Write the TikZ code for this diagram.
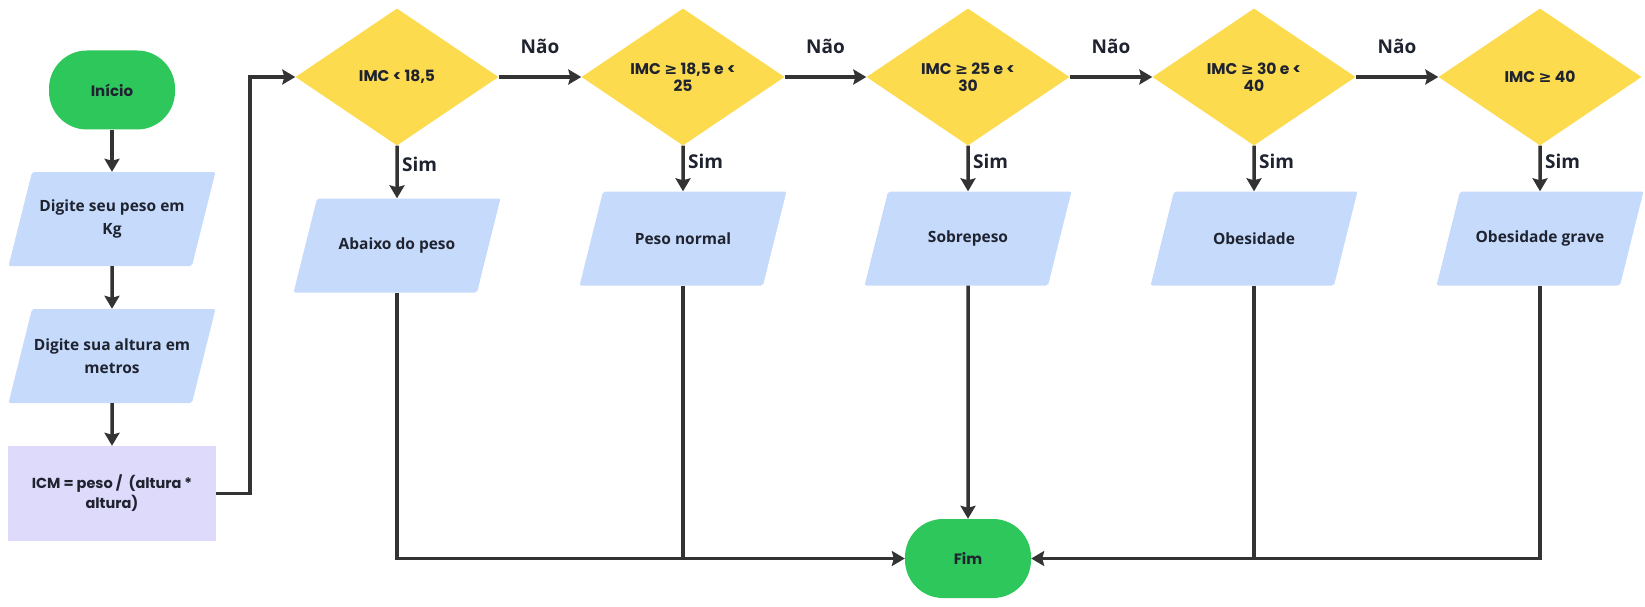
\documentclass[tikz,border=0pt]{standalone}
\usepackage{fontspec}
\setmainfont{Open Sans}
\newfontfamily\rnd{Poppins}
\newfontfamily\symf{DejaVu Sans}
\usetikzlibrary{shapes.geometric,arrows.meta}
\definecolor{term}{HTML}{2EC75C}
\definecolor{io}{HTML}{C6DBFB}
\definecolor{dec}{HTML}{FDDB4F}
\definecolor{proc}{HTML}{DEDAFB}
\definecolor{ln}{HTML}{333333}
\definecolor{txt}{HTML}{1F2330}
\newcommand{\maiorig}{{\symf ≥}}
\begin{document}
\begin{tikzpicture}[x=1pt, y=-1pt,
  term/.style={rectangle, rounded corners=38pt, fill=term, text=txt, minimum width=126pt, minimum height=79pt, font=\rnd\bfseries\fontsize{15}{18}\selectfont},
  io/.style={trapezium, trapezium left angle=76, trapezium right angle=104, rounded corners=2pt, fill=io, text=txt, inner sep=0pt,
    execute at begin node={\begin{minipage}[c][94pt][c]{160pt}\centering}, execute at end node={\end{minipage}},
    font=\bfseries\fontsize{15.5}{23}\selectfont},
  proc/.style={rectangle, fill=proc, text=txt, minimum width=208pt, minimum height=95pt, align=center, font=\rnd\bfseries\fontsize{14.5}{20}\selectfont},
  dec/.style={diamond, fill=dec, text=txt, minimum width=203pt, minimum height=137pt, inner sep=0pt, align=center, font=\rnd\bfseries\fontsize{15.5}{17}\selectfont},
  lbl/.style={text=txt, font=\bfseries\fontsize{19}{22}\selectfont},
  e/.style={draw=ln, line width=3.5pt},
  a/.style={e, -{Stealth[length=13pt, width=15pt, inset=2pt]}}
]
\useasboundingbox (0,0) rectangle (1645,607);

\node[term] (ini) at (112,90) {Início};
\node[io] (peso) at (112,219) {Digite seu peso em\\Kg};
\node[io] (alt) at (112,356) {Digite sua altura em\\metros};
\node[proc] (icm) at (112,493.5) {ICM = peso /\ \ (altura *\\altura)};

\node[dec] (d1) at (397,77) {IMC < 18,5};
\node[dec] (d2) at (683,77) {IMC \maiorig{} 18,5 e <\\25};
\node[dec] (d3) at (968,77) {IMC \maiorig{} 25 e <\\30};
\node[dec] (d4) at (1254,77) {IMC \maiorig{} 30 e <\\40};
\node[dec] (d5) at (1540,77) {IMC \maiorig{} 40};

\node[io] (o1) at (397,245.5) {Abaixo do peso};
\node[io] (o2) at (683,238.5) {Peso normal};
\node[io] (o3) at (968,238.5) {Sobrepeso};
\node[io] (o4) at (1254,238.5) {Obesidade};
\node[io] (o5) at (1540,238.5) {Obesidade grave};

\node[term] (fim) at (968,558.5) {Fim};

\draw[a] (ini) -- (peso);
\draw[a] (peso) -- (alt);
\draw[a] (alt) -- (icm);
\draw[a] (icm.east) -- ++(34,0) |- (d1.west);

\draw[a] (d1) -- node[lbl, above=18pt] {Não} (d2);
\draw[a] (d2) -- node[lbl, above=18pt] {Não} (d3);
\draw[a] (d3) -- node[lbl, above=18pt] {Não} (d4);
\draw[a] (d4) -- node[lbl, above=18pt] {Não} (d5);

\draw[a] (d1) -- node[lbl, right, pos=.35] {Sim} (o1);
\draw[a] (d2) -- node[lbl, right, pos=.35] {Sim} (o2);
\draw[a] (d3) -- node[lbl, right, pos=.35] {Sim} (o3);
\draw[a] (d4) -- node[lbl, right, pos=.35] {Sim} (o4);
\draw[a] (d5) -- node[lbl, right, pos=.35] {Sim} (o5);

\draw[a] (o1.south) |- (fim.west);
\draw[e] (o2.south) -- (o2.south |- fim.west);
\draw[a] (o3) -- (fim);
\draw[e] (o4.south) -- (o4.south |- fim.east);
\draw[a] (o5.south) |- (fim.east);
\end{tikzpicture}
\end{document}
